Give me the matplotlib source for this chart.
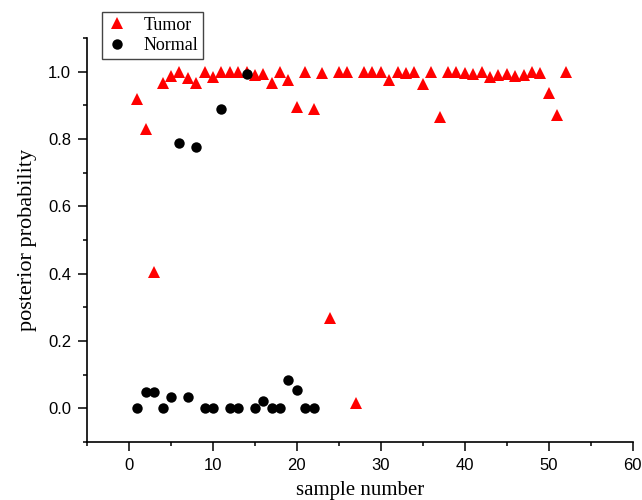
import numpy as np
import matplotlib
matplotlib.use('Agg')
import matplotlib.pyplot as plt
from matplotlib.ticker import MultipleLocator

plt.rcParams['font.family'] = ['Liberation Sans', 'DejaVu Sans']

# 样本编号与后验概率
tumor_x = list(range(1, 53))
tumor_p = [0.918, 0.83, 0.405, 0.967, 0.987, 1.0, 0.982, 0.965, 1.0, 0.985,
           0.998, 1.0, 1.0, 0.998, 0.99, 0.992, 0.965, 1.0, 0.975, 0.894,
           1.0, 0.889, 0.997, 0.268, 1.0, 1.0, 0.015, 1.0, 1.0, 1.0,
           0.975, 1.0, 0.997, 1.0, 0.962, 1.0, 0.866, 1.0, 1.0, 0.997,
           0.993, 1.0, 0.985, 0.99, 0.993, 0.987, 0.99, 1.0, 0.995, 0.936,
           0.871, 0.998]

normal_x = list(range(1, 23))
normal_p = [0.0, 0.048, 0.048, 0.0, 0.034, 0.789, 0.034, 0.777, 0.0, 0.0,
            0.889, 0.0, 0.0, 0.992, 0.0, 0.021, 0.0, 0.0, 0.083, 0.054,
            0.0, 0.0]

fig = plt.figure(figsize=(6.42, 5.0), dpi=100)
ax = fig.add_axes([0.1355, 0.116, 0.85, 0.808])

ax.plot(tumor_x, tumor_p, linestyle='none', marker='^', markersize=8.5,
        color='#ff0000', markeredgewidth=0, label='Tumor')
ax.plot(normal_x, normal_p, linestyle='none', marker='o', markersize=7.5,
        color='black', markeredgewidth=0, label='Normal')

ax.set_xlim(-5, 60)
ax.set_ylim(-0.1, 1.1)
ax.xaxis.set_major_locator(MultipleLocator(10))
ax.xaxis.set_minor_locator(MultipleLocator(5))
ax.yaxis.set_major_locator(MultipleLocator(0.2))
ax.yaxis.set_minor_locator(MultipleLocator(0.1))
ax.yaxis.set_major_formatter(matplotlib.ticker.FormatStrFormatter('%.1f'))

ax.spines['top'].set_visible(False)
ax.spines['right'].set_visible(False)
for s in ['left', 'bottom']:
    ax.spines[s].set_linewidth(1.2)
ax.tick_params(which='major', direction='out', length=6.5, width=1.1,
               labelsize=12, pad=5)
ax.tick_params(which='minor', direction='out', length=3.2, width=1.1)

ax.set_xlabel('sample number', family='Liberation Serif', fontsize=15, labelpad=6)
ax.set_ylabel('posterior probability', family='Liberation Serif', fontsize=16, labelpad=8)

leg = fig.legend(loc='upper left', bbox_to_anchor=(0.159, 0.976),
                 prop={'family': 'Liberation Serif', 'size': 13},
                 fancybox=False, edgecolor='#444444', framealpha=1,
                 borderpad=0.25, labelspacing=0.2, handlelength=1.2,
                 handletextpad=0.85, borderaxespad=0)
leg.get_frame().set_linewidth(1.0)

plt.savefig('out.png', dpi=100)
